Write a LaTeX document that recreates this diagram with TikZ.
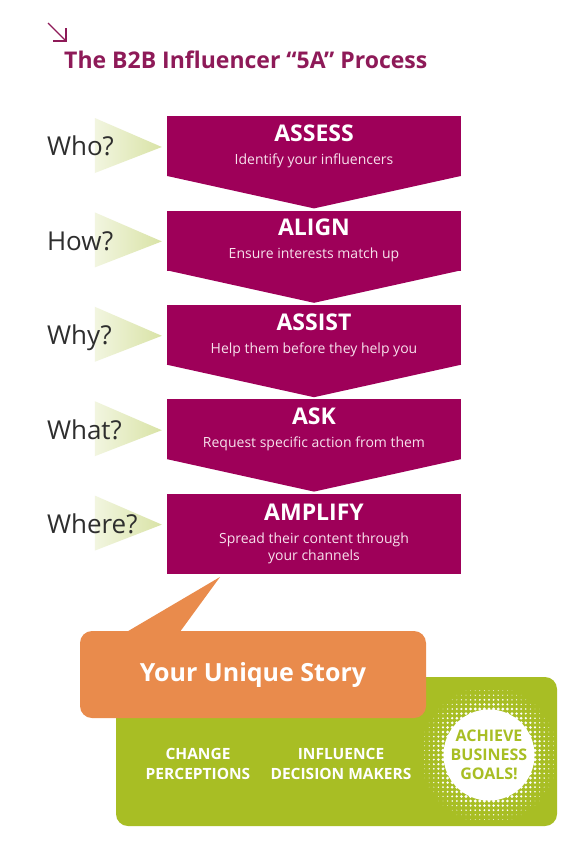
\documentclass[tikz,border=0pt]{standalone}
\usepackage{fontspec}
\setmainfont{Open Sans}
\usetikzlibrary{shapes, arrows, positioning, calc}
\definecolor{plum}{HTML}{9E0059}
\definecolor{titleplum}{HTML}{8E1A58}
\definecolor{trigreen}{HTML}{D9E3A6}
\definecolor{qgray}{HTML}{2E2E2E}
\definecolor{storyorange}{HTML}{E98B4C}
\definecolor{goalgreen}{HTML}{A8BE24}
\definecolor{subpink}{HTML}{F7E1EC}

\begin{document}
\begin{tikzpicture}[x=1pt, y=-1pt]
    \tikzstyle{stepbox} = [rectangle, fill=plum, text=white, minimum width=294pt, minimum height=60pt, inner sep=0pt, align=center, font=\fontsize{14}{17}\selectfont]
    \tikzstyle{ask} = [anchor=base west, text=qgray, inner sep=0pt, font=\fontsize{26}{26}\selectfont]
    \tikzstyle{goaltext} = [text=white, align=center, inner sep=0pt, font=\fontsize{15.5}{20}\selectfont\bfseries]
    \newcommand{\stephead}[1]{{\fontsize{23}{23}\selectfont\bfseries #1}\\[6pt]}

    % canvas
    \useasboundingbox[fill=white] (0,0) rectangle (574,844);

    % title
    \coordinate (arrowstart) at (48,23);
    \coordinate (arrowend) at (66,41);
    \draw[titleplum, line width=1.3pt] (arrowstart) -- (arrowend);
    \draw[titleplum, line width=1.3pt] ($(arrowend)+(-13,0)$) -- (arrowend) -- ($(arrowend)+(0,-13)$);
    \node[anchor=base west, text=titleplum, inner sep=0pt, font=\fontsize{23}{23}\selectfont\bfseries] (title) at (64,68) {The B2B Influencer “5A” Process};

    % the five steps
    \node[stepbox, anchor=north] (assess) at (314,116) {\stephead{ASSESS}\textcolor{subpink}{Identify your influencers}};
    \node[stepbox, below=34pt of assess] (align) {\stephead{ALIGN}\textcolor{subpink}{Ensure interests match up}};
    \node[stepbox, below=34pt of align] (assist) {\stephead{ASSIST}\textcolor{subpink}{Help them before they help you}};
    \node[stepbox, below=34pt of assist] (ask) {\stephead{ASK}\textcolor{subpink}{Request specific action from them}};
    \node[stepbox, below=34pt of ask, minimum height=80pt] (amplify) {\stephead{AMPLIFY}\textcolor{subpink}{Spread their content through}\\\textcolor{subpink}{your channels}};

    \foreach \n in {assess, align, assist, ask}
        \fill[plum] ($(\n.south west)+(0,-0.5)$) -- ($(\n.south east)+(0,-0.5)$) -- ($(\n.south)+(0,32)$) -- cycle;

    % pointers and questions
    \foreach \n in {assess, align, assist, ask, amplify}
        \shade[left color=trigreen!35, right color=trigreen] ($(\n.north west)+(-72,2)$) -- ($(\n.north west)+(-5,31)$) -- ($(\n.north west)+(-72,57)$) -- cycle;

    \node[ask] (who) at ($(assess.north west)+(-120,39)$) {Who?};
    \node[ask] (how) at ($(align.north west)+(-120,40)$) {How?};
    \node[ask] (why) at ($(assist.north west)+(-120,40)$) {Why?};
    \node[ask] (what) at ($(ask.north west)+(-120,40)$) {What?};
    \node[ask] (where) at ($(amplify.north west)+(-120,40)$) {Where?};

    % outcome panel
    \node[rectangle, fill=goalgreen, rounded corners=12pt, minimum width=441pt, minimum height=149pt] (goals) at (336.5,751.5) {};
    \begin{scope}
        \clip[rounded corners=12pt] (goals.south west) rectangle (goals.north east);
        \foreach \i in {-16,...,16}
            \foreach \j in {-16,...,16} {
                \pgfmathsetmacro\dd{veclen(\i,\j)*4.6}
                \pgfmathsetmacro\dr{min(1.7, max(0, (72-\dd)*0.065))}
                \ifdim\dr pt>0.2pt
                    \fill[white] ($(489,755)+(\i*4.6,\j*4.6)$) circle[radius=\dr pt];
                \fi
            }
    \end{scope}
    \node[circle, fill=white, minimum size=88pt, inner sep=0pt, text=goalgreen, align=center, font=\fontsize{16}{19}\selectfont\bfseries] (achieve) at (489,755) {ACHIEVE\\BUSINESS\\GOALS!};
    \node[goaltext] (change) at (198,764) {CHANGE\\PERCEPTIONS};
    \node[goaltext] (influence) at (341,764) {INFLUENCE\\DECISION MAKERS};

    % speech bubble
    \node[rectangle, fill=storyorange, rounded corners=12pt, minimum width=346pt, minimum height=87pt, text=white, font=\fontsize{25}{25}\selectfont\bfseries] (story) at (253,674.5) {Your Unique Story};
    \coordinate (tailtip) at (220,577);
    \fill[storyorange] ($(story.north west)+(42,4)$) -- (tailtip) -- ($(story.north west)+(98,4)$) -- cycle;
\end{tikzpicture}
\end{document}
